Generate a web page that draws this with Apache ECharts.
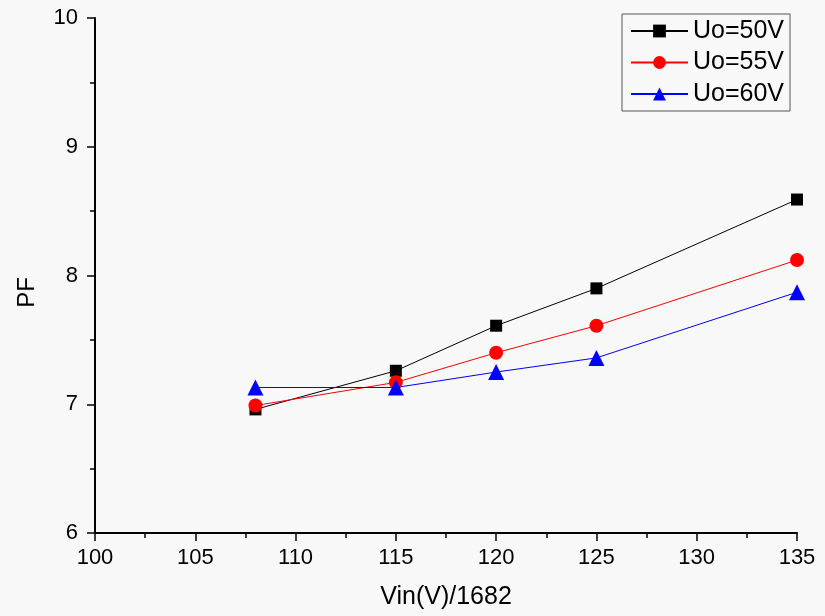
<!DOCTYPE html>
<html>
<head>
<meta charset="utf-8">
<script src="https://cdn.jsdelivr.net/npm/echarts@6/dist/echarts.min.js"></script>
<style>
html,body{margin:0;padding:0;background:#f8f8f8;}
#chart{width:825px;height:616px;}
</style>
</head>
<body>
<div id="chart"></div>
<script>
var xValues = [108, 115, 120, 125, 135];
var uo50 = [6.96, 7.26, 7.61, 7.90, 8.59];
var uo55 = [6.99, 7.17, 7.40, 7.61, 8.12];
var uo60 = [7.13, 7.13, 7.25, 7.36, 7.87];
var seriesNames = ['Uo=50V', 'Uo=55V', 'Uo=60V'];

function pairs(ys) { return xValues.map(function (x, i) { return [x, ys[i]]; }); }

var font = 'Arial, "Liberation Sans", sans-serif';
var chart = echarts.init(document.getElementById('chart'), null, {renderer: 'canvas'});
chart.setOption({
  backgroundColor: '#f8f8f8',
  animation: false,
  grid: {left: 95, right: 28, top: 18, bottom: 83},
  legend: {
    orient: 'vertical',
    left: 622, top: 14,
    padding: [4, 6, 4, 8],
    itemGap: 5.5,
    itemWidth: 57,
    itemHeight: 16,
    borderColor: '#555',
    borderWidth: 1,
    textStyle: {fontSize: 25, fontFamily: font, color: '#000', lineHeight: 26}
  },
  xAxis: {
    type: 'value', min: 100, max: 135, interval: 5,
    name: 'Vin(V)/1682', nameLocation: 'middle', nameGap: 52,
    nameTextStyle: {fontSize: 25, fontFamily: font, color: '#000'},
    axisLine: {show: true, onZero: false, lineStyle: {color: '#000', width: 2}},
    axisTick: {show: true, length: 8, lineStyle: {color: '#000', width: 1.5}},
    minorTick: {show: true, splitNumber: 2, length: 5, lineStyle: {color: '#000', width: 1.5}},
    axisLabel: {fontSize: 22, fontFamily: font, color: '#000', margin: 14},
    splitLine: {show: false}
  },
  yAxis: {
    type: 'value', min: 6, max: 10, interval: 1,
    name: 'PF', nameLocation: 'middle', nameGap: 56, nameRotate: 90,
    nameTextStyle: {fontSize: 24, fontFamily: font, color: '#000', padding: [0, 34, 0, 0]},
    axisLine: {show: true, onZero: false, lineStyle: {color: '#000', width: 2}},
    axisTick: {show: true, length: 8, lineStyle: {color: '#000', width: 1.5}},
    minorTick: {show: true, splitNumber: 2, length: 5, lineStyle: {color: '#000', width: 1.5}},
    axisLabel: {fontSize: 22, fontFamily: font, color: '#000', margin: 17},
    splitLine: {show: false}
  },
  series: [
    {name: seriesNames[0], type: 'line', data: pairs(uo50), symbol: 'rect', symbolSize: 12,
     itemStyle: {color: '#000'}, lineStyle: {color: '#000', width: 1}},
    {name: seriesNames[1], type: 'line', data: pairs(uo55), symbol: 'circle', symbolSize: 14,
     itemStyle: {color: '#ff0000'}, lineStyle: {color: '#ff0000', width: 1}},
    {name: seriesNames[2], type: 'line', data: pairs(uo60), symbol: 'triangle', symbolSize: 16,
     itemStyle: {color: '#0000ff'}, lineStyle: {color: '#0000ff', width: 1}}
  ]
});
</script>
</body>
</html>
